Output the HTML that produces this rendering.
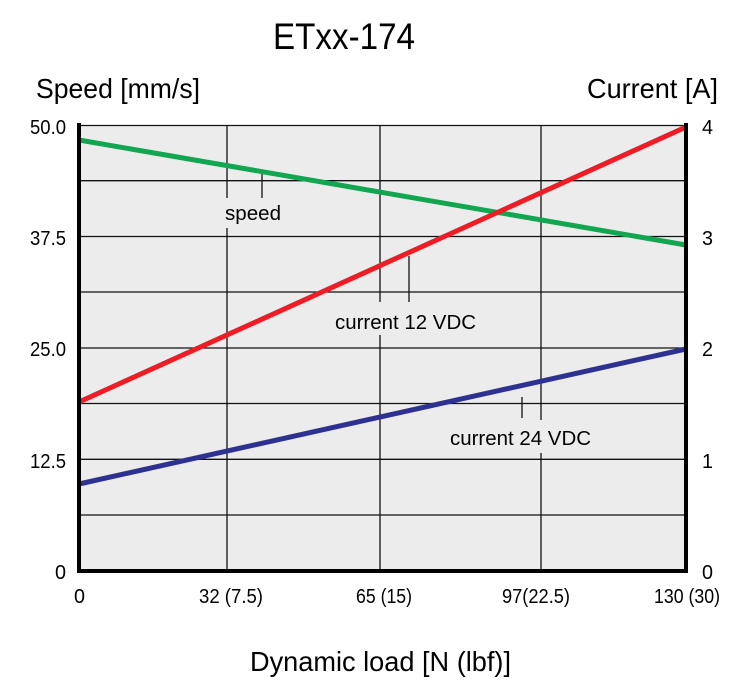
<!DOCTYPE html>
<html><head><meta charset="utf-8"><style>
body{margin:0;background:#fff;}
svg{display:block;font-family:"Liberation Sans Narrow","Liberation Sans",sans-serif;}
</style></head><body>
<svg width="750" height="693" viewBox="0 0 750 693">
<rect x="79" y="125" width="607" height="446" fill="#ececec"/>
<g stroke="#111" stroke-width="1.3">
<line x1="79" y1="180.7" x2="686" y2="180.7"/>
<line x1="79" y1="236.5" x2="686" y2="236.5"/>
<line x1="79" y1="292" x2="686" y2="292"/>
<line x1="79" y1="348" x2="686" y2="348"/>
<line x1="79" y1="403.5" x2="686" y2="403.5"/>
<line x1="79" y1="459.3" x2="686" y2="459.3"/>
<line x1="79" y1="515" x2="686" y2="515"/>
<line x1="79" y1="125.5" x2="686" y2="125.5"/>
<line x1="227" y1="125" x2="227" y2="198"/>
<line x1="227" y1="228" x2="227" y2="571"/>
<line x1="380" y1="125" x2="380" y2="302"/>
<line x1="380" y1="335" x2="380" y2="571"/>
<line x1="541" y1="125" x2="541" y2="420"/>
<line x1="541" y1="453" x2="541" y2="571"/>
<line x1="262" y1="172" x2="262" y2="198"/>
<line x1="409" y1="256" x2="409" y2="302"/>
<line x1="522" y1="397" x2="522" y2="418"/>
</g>
<g stroke-width="5" stroke-linecap="butt">
<line x1="79" y1="140" x2="686" y2="245" stroke="#12a650"/>
<line x1="79" y1="402" x2="686" y2="127" stroke="#ee1c25"/>
<line x1="79" y1="484" x2="686" y2="349" stroke="#2e3192"/>
</g>
<g stroke="#000" stroke-width="4" fill="none">
<line x1="79" y1="123" x2="79" y2="573"/>
<line x1="686" y1="123" x2="686" y2="573"/>
<line x1="77" y1="571" x2="688" y2="571"/>
</g>
<g font-size="20" fill="#000" lengthAdjust="spacingAndGlyphs">
<text x="225" y="220" textLength="56" lengthAdjust="spacingAndGlyphs">speed</text>
<text x="335" y="329" textLength="141" lengthAdjust="spacingAndGlyphs">current 12 VDC</text>
<text x="450" y="445" textLength="141" lengthAdjust="spacingAndGlyphs">current 24 VDC</text>
</g>
<g font-size="20" fill="#000">
<text x="30" y="134" textLength="36" lengthAdjust="spacingAndGlyphs">50.0</text>
<text x="30" y="245" textLength="36" lengthAdjust="spacingAndGlyphs">37.5</text>
<text x="30" y="356" textLength="36" lengthAdjust="spacingAndGlyphs">25.0</text>
<text x="30" y="468" textLength="36" lengthAdjust="spacingAndGlyphs">12.5</text>
<text x="55" y="579" textLength="11" lengthAdjust="spacingAndGlyphs">0</text>
<text x="702" y="134" textLength="11" lengthAdjust="spacingAndGlyphs">4</text>
<text x="702" y="245" textLength="11" lengthAdjust="spacingAndGlyphs">3</text>
<text x="702" y="356" textLength="11" lengthAdjust="spacingAndGlyphs">2</text>
<text x="702" y="468" textLength="11" lengthAdjust="spacingAndGlyphs">1</text>
<text x="702" y="579" textLength="11" lengthAdjust="spacingAndGlyphs">0</text>
<text x="74" y="603" textLength="11" lengthAdjust="spacingAndGlyphs">0</text>
<text x="199" y="603" textLength="64" lengthAdjust="spacingAndGlyphs">32 (7.5)</text>
<text x="356" y="603" textLength="56" lengthAdjust="spacingAndGlyphs">65 (15)</text>
<text x="502" y="603" textLength="68" lengthAdjust="spacingAndGlyphs">97(22.5)</text>
<text x="654" y="603" textLength="66" lengthAdjust="spacingAndGlyphs">130 (30)</text>
</g>
<text x="36" y="98" font-size="28" textLength="164" lengthAdjust="spacingAndGlyphs">Speed [mm/s]</text>
<text x="587" y="98" font-size="28" textLength="131" lengthAdjust="spacingAndGlyphs">Current [A]</text>
<text x="273" y="49" font-size="37" textLength="142" lengthAdjust="spacingAndGlyphs">ETxx-174</text>
<text x="250" y="671" font-size="28" textLength="261" lengthAdjust="spacingAndGlyphs">Dynamic load [N (lbf)]</text>
</svg>
</body></html>
